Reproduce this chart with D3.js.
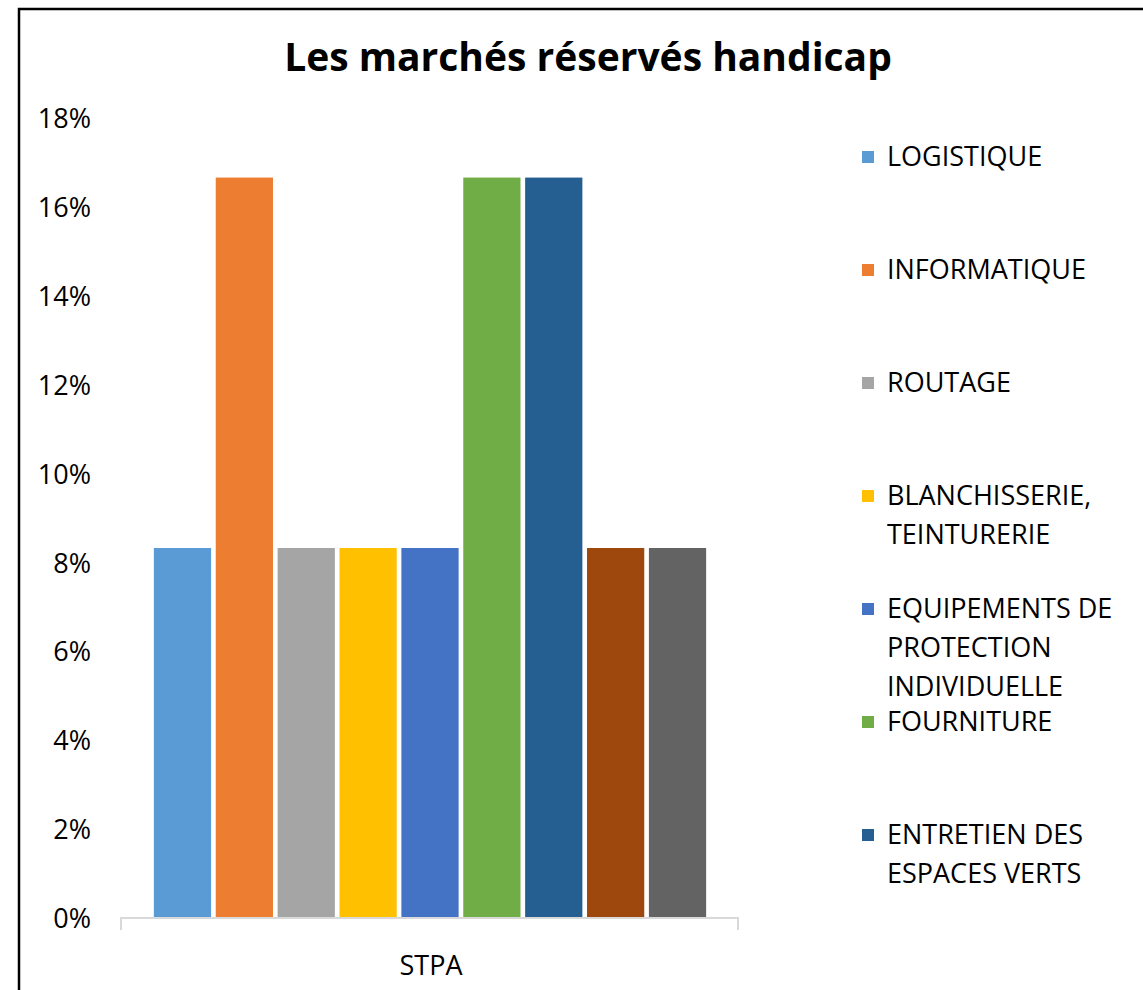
<!DOCTYPE html>
<html><head><meta charset="utf-8">
<script src="https://cdn.jsdelivr.net/npm/d3@7"></script>
<style>body{margin:0;background:#fff}svg{display:block}</style>
</head><body>
<svg id="c" width="1143" height="990"></svg>
<script>
const title = "Les marchés réservés handicap";
const category = "STPA";
const seriesNames = ["LOGISTIQUE","INFORMATIQUE","ROUTAGE","BLANCHISSERIE, TEINTURERIE","EQUIPEMENTS DE PROTECTION INDIVIDUELLE","FOURNITURE","ENTRETIEN DES ESPACES VERTS","",""];
const legendLines = [["LOGISTIQUE"],["INFORMATIQUE"],["ROUTAGE"],["BLANCHISSERIE,","TEINTURERIE"],["EQUIPEMENTS DE","PROTECTION","INDIVIDUELLE"],["FOURNITURE"],["ENTRETIEN DES","ESPACES VERTS"]];
const values = [0.0833,0.1667,0.0833,0.0833,0.0833,0.1667,0.1667,0.0833,0.0833];
const colors = ["#5B9BD5","#ED7D31","#A5A5A5","#FFC000","#4472C4","#70AD47","#255E91","#9E480E","#636363"];
const yTicks = [0,0.02,0.04,0.06,0.08,0.1,0.12,0.14,0.16,0.18];

const svg = d3.select("#c");
const font = "'Open Sans', sans-serif";

// frame
svg.append("path").attr("d","M19,990 V9 H1143").attr("fill","none").attr("stroke","#000").attr("stroke-width",2.5);

svg.append("text").attr("x",588).attr("y",71).attr("text-anchor","middle")
  .attr("font-family",font).attr("font-weight","bold").attr("font-size",39).text(title);

const y = d3.scaleLinear().domain([0,0.18]).range([918,118.5]);
const x = d3.scaleBand().domain(d3.range(values.length)).range([152,708]).paddingInner(0.075).paddingOuter(0.03);

const yAxis = d3.axisLeft(y).tickValues(yTicks).tickFormat(d3.format(".0%")).tickSize(0).tickPadding(0);
const ga = svg.append("g").attr("transform","translate(91,0)").call(yAxis);
ga.select(".domain").remove();
ga.selectAll("text").attr("font-family",font).attr("font-size",27).attr("fill","#000").attr("dy","0.35em");

svg.selectAll("rect.bar").data(values).join("rect").attr("class","bar")
  .attr("x",(d,i)=>x(i)).attr("width",x.bandwidth())
  .attr("y",d=>y(d)).attr("height",d=>y(0)-y(d))
  .attr("fill",(d,i)=>colors[i]);

svg.append("path").attr("d",`M121,930 V${y(0)} H738 V930`).attr("fill","none").attr("stroke","#D9D9D9").attr("stroke-width",2);
svg.append("text").attr("x",431).attr("y",975).attr("text-anchor","middle")
  .attr("font-family",font).attr("font-size",27).text(category);

const legendY = [157,270,383,496,609,722,835];
const lg = svg.append("g");
legendLines.forEach((lines,i)=>{
  lg.append("rect").attr("x",862).attr("y",legendY[i]-6).attr("width",12).attr("height",12).attr("fill",colors[i]);
  lines.forEach((t,j)=>{
    lg.append("text").attr("x",887).attr("y",legendY[i]+j*39).attr("dy","0.35em")
      .attr("font-family",font).attr("font-size",27).text(t);
  });
});
</script>
</body></html>
